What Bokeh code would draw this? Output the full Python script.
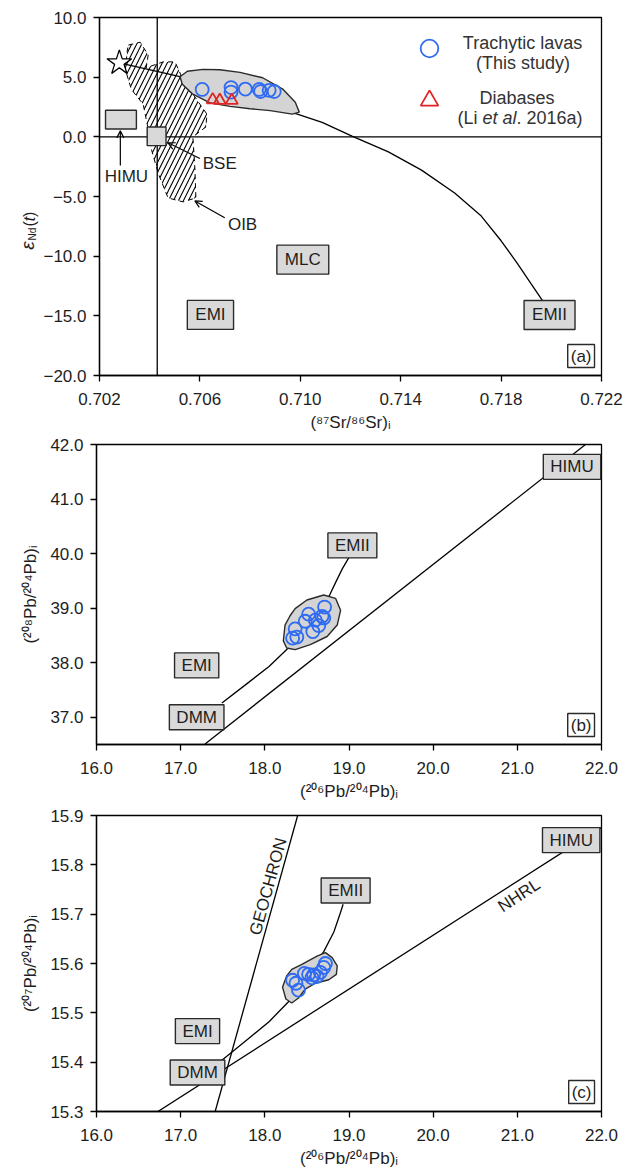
import math
from bokeh.plotting import figure
from bokeh.models import (Range1d, FixedTicker, CustomJSTickFormatter, Span, Label,
                          Arrow, OpenHead, Legend, LegendItem)
from bokeh.layouts import column, row
from bokeh.embed import file_html
from bokeh.resources import INLINE
from bokeh.core.properties import value

FONT = "Liberation Sans"
INK = "#1e1e1e"
BLUE = "#2f6bf2"
RED = "#e02424"
FIELD = "#d4d4d4"
BOXFILL = "#d9d9d9"

# ---------------- (a) Sr-Nd data ----------------
a_xticks = [0.702, 0.706, 0.710, 0.714, 0.718, 0.722]
a_yticks = [-20, -15, -10, -5, 0, 5, 10]
a_bse_sr = 0.7043
a_chur_nd = 0.0

a_lava_sr = [0.70609, 0.70724, 0.70724, 0.70781, 0.70836, 0.70842, 0.70876, 0.70896]
a_lava_nd = [3.97, 4.13, 3.75, 4.00, 3.97, 3.80, 3.90, 3.80]
a_dia_sr = [0.70651, 0.70679, 0.70727]
a_dia_nd = [3.10, 3.05, 3.05]
a_dmm_sr = [0.70279]
a_dmm_nd = [6.2]
a_mix_sr = [0.70279, 0.70521, 0.7065, 0.7080, 0.70988, 0.71087, 0.71206, 0.71351,
            0.71483, 0.71615, 0.71721, 0.71800, 0.71866, 0.71919, 0.71965]
a_mix_nd = [6.2, 5.04, 4.0, 3.0, 1.9, 1.21, 0.06, -1.26, -2.79, -4.71, -6.64, -8.71,
            -10.64, -12.30, -13.72]
a_field_sr = [0.70521, 0.70550, 0.70612, 0.70680, 0.70760, 0.70850, 0.70930, 0.70980,
              0.70996, 0.70968, 0.70880, 0.70800, 0.70720, 0.70640, 0.70570, 0.70530]
a_field_nd = [5.04, 5.50, 5.65, 5.62, 5.40, 4.95, 4.00, 2.90, 2.07, 1.90, 2.20, 2.35,
              2.55, 2.85, 3.60, 4.40]
a_oib_sr = [0.70315, 0.70362, 0.70394, 0.70386, 0.70453, 0.70501, 0.70533, 0.70592,
            0.70628, 0.70624, 0.70572, 0.70580, 0.70584, 0.70533, 0.70473, 0.70434,
            0.70406, 0.70394, 0.70374, 0.70327, 0.70303, 0.70311]
a_oib_nd = [7.69, 7.93, 6.86, 5.79, 6.28, 6.28, 4.79, 2.98, 1.90, 0.83, 0.00, -2.64,
            -5.12, -5.45, -5.12, -3.06, -0.99, 0.66, 2.73, 3.97, 5.62, 7.27]
a_himu_box = dict(left=[0.70224], right=[0.70347], bottom=[0.66], top=[2.23])
a_bse_box = dict(left=[0.7039], right=[0.70465], bottom=[-0.74], top=[0.83])
a_endmembers = [("EMI", 0.70642, -14.92), ("MLC", 0.7101, -10.29), ("EMII", 0.71993, -14.93)]
a_pointers = [("HIMU", 0.70307, -3.31, 0.70283, -2.40, 0.70283, 0.50),
              ("BSE", 0.70679, -2.23, 0.70600, -1.82, 0.70473, -0.50),
              ("OIB", 0.70770, -7.36, 0.70699, -6.78, 0.70580, -5.37)]

# ---------------- (b) 206Pb-208Pb data ----------------
pb_xticks = [16, 17, 18, 19, 20, 21, 22]
b_yticks = [37, 38, 39, 40, 41, 42]
b_lava_206 = [18.33, 18.38, 18.36, 18.48, 18.52, 18.57, 18.60, 18.64, 18.68, 18.70, 18.71]
b_lava_208 = [38.45, 38.47, 38.62, 38.76, 38.89, 38.57, 38.78, 38.68, 38.85, 38.82, 39.02]
b_nhrl_206 = [17.29, 21.81]
b_nhrl_208 = [36.51, 42.0]
b_mix_206 = [17.49, 17.80, 18.05, 18.26, 18.50, 18.77, 18.85, 18.92, 19.00]
b_mix_208 = [37.26, 37.63, 37.93, 38.24, 38.70, 39.24, 39.50, 39.72, 39.93]
b_field_206 = [18.22, 18.24, 18.30, 18.36, 18.50, 18.70, 18.84, 18.90, 18.86, 18.74,
               18.54, 18.36, 18.26]
b_field_208 = [38.40, 38.69, 38.86, 38.99, 39.15, 39.24, 39.18, 38.96, 38.69, 38.48,
               38.33, 38.24, 38.27]
b_endmembers = [("HIMU", 21.65, 41.59), ("EMII", 19.04, 40.15), ("EMI", 17.19, 37.95),
                ("DMM", 17.19, 37.00)]

# ---------------- (c) 206Pb-207Pb data ----------------
c_yticks = [15.3, 15.4, 15.5, 15.6, 15.7, 15.8, 15.9]
c_lava_206 = [18.33, 18.37, 18.40, 18.47, 18.52, 18.56, 18.58, 18.62, 18.66, 18.70, 18.72]
c_lava_207 = [15.566, 15.560, 15.546, 15.580, 15.578, 15.571, 15.577, 15.574, 15.582,
              15.592, 15.600]
c_geochron_206 = [17.41, 18.39]
c_geochron_207 = [15.30, 15.90]
c_nhrl_206 = [16.73, 22.0]
c_nhrl_207 = [15.30, 15.876]
c_mix_206 = [17.49, 17.80, 18.05, 18.29, 18.50, 18.70, 18.82, 18.90, 18.93]
c_mix_207 = [15.404, 15.447, 15.482, 15.524, 15.575, 15.624, 15.664, 15.704, 15.720]
c_field_206 = [18.21, 18.26, 18.32, 18.44, 18.62, 18.72, 18.80, 18.86, 18.85, 18.76,
               18.60, 18.48, 18.40, 18.32, 18.25]
c_field_207 = [15.552, 15.575, 15.588, 15.598, 15.615, 15.622, 15.612, 15.595, 15.578,
               15.567, 15.560, 15.548, 15.530, 15.520, 15.528]
c_endmembers = [("HIMU", 21.64, 15.850), ("EMII", 18.96, 15.748), ("EMI", 17.20, 15.463),
                ("DMM", 17.20, 15.379)]
c_line_labels = [("GEOCHRON", 18.04, 15.756), ("NHRL", 21.02, 15.738)]

FRAME_W = 505
C_FRAME_H = 301


def make_fig(w, h, xr, yr, left, top, bottom):
    p = figure(width=w, height=h, x_range=Range1d(*xr), y_range=Range1d(*yr),
               output_backend="svg", toolbar_location=None,
               min_border_left=left, min_border_right=39,
               min_border_top=top, min_border_bottom=bottom)
    p.grid.visible = False
    p.outline_line_color = "black"
    p.outline_line_width = 1.3
    p.outline_line_alpha = 1.0
    p.background_fill_color = "white"
    p.border_fill_color = "white"
    return p


def style(p, xticks, yticks, xdig, ydig, xlabel, ylabel):
    p.xaxis.ticker = FixedTicker(ticks=xticks)
    p.yaxis.ticker = FixedTicker(ticks=yticks)
    p.xaxis.formatter = CustomJSTickFormatter(
        code="return tick.toFixed(%d).replace('-', '\\u2212')" % xdig)
    p.yaxis.formatter = CustomJSTickFormatter(
        code="return tick.toFixed(%d).replace('-', '\\u2212')" % ydig)
    for ax in p.axis:
        ax.major_label_text_font = FONT
        ax.major_label_text_font_size = "17px"
        ax.major_label_text_color = INK
        ax.major_tick_in = 0
        ax.major_tick_out = 6
        ax.minor_tick_line_color = None
        ax.axis_line_width = 1.3
        ax.major_tick_line_width = 1.3
        ax.axis_label_text_font = FONT
        ax.axis_label_text_font_size = "17px"
        ax.axis_label_text_font_style = "normal"
        ax.axis_label_text_color = INK
    p.xaxis.major_label_standoff = 11
    p.yaxis.major_label_standoff = 7
    p.xaxis.axis_label = xlabel
    p.xaxis.axis_label_standoff = 5
    if ylabel:
        p.yaxis.axis_label = ylabel
        p.yaxis.axis_label_standoff = 7


def box_label(p, text, x, y, pad):
    p.add_layout(Label(x=x, y=y, text=text, text_align="center", text_baseline="middle",
                       text_font=FONT, text_font_size="17px", text_color=INK,
                       background_fill_color=BOXFILL, border_line_color="#2a2a2a",
                       border_line_width=1.4, padding=pad))


def panel_tag(p, text, xr, yr):
    p.add_layout(Label(x=xr[1], y=yr[0], x_offset=-7, y_offset=8, text=text,
                       text_align="right", text_baseline="bottom",
                       text_font=FONT, text_font_size="17px", text_color=INK,
                       background_fill_color="white", border_line_color="#2a2a2a",
                       border_line_width=1.4, padding=(3, 2)))


def field_and_lavas(p, fx, fy, lx, ly):
    p.patch(fx, fy, fill_color=FIELD, line_color="#2a2a2a", line_width=1.4)
    return p.scatter(lx, ly, marker="circle", size=13, fill_color=None,
                     line_color=BLUE, line_width=1.8)


# ================= panel (a) =================
a_xr = (0.702, 0.722)
a_yr = (-20, 10)
pa = make_fig(600, 434, a_xr, a_yr, 56, 17, 54)
style(pa, a_xticks, a_yticks, 3, 1, "(\u2078\u2077Sr/\u2078\u2076Sr)\u1d62", None)

pa.add_layout(Span(location=a_bse_sr, dimension="height", line_color="black",
                   line_width=1.3, level="underlay"))
pa.add_layout(Span(location=a_chur_nd, dimension="width", line_color="black",
                   line_width=1.3, level="underlay"))

pa.patch(a_oib_sr, a_oib_nd, fill_color=None, line_color="black", line_width=1,
         line_dash="5 4", hatch_pattern="/", hatch_color="black", hatch_weight=1.1,
         hatch_scale=10)
pa.quad(**a_himu_box, fill_color=BOXFILL, line_color="#2a2a2a", line_width=1.4)
pa.quad(**a_bse_box, fill_color=BOXFILL, line_color="#2a2a2a", line_width=1.4)

pa.line(a_mix_sr, a_mix_nd, line_color="black", line_width=1.3)
r_lava = field_and_lavas(pa, a_field_sr, a_field_nd, a_lava_sr, a_lava_nd)
r_dia = pa.scatter(a_dia_sr, a_dia_nd, marker="triangle", size=12, fill_color=None,
                   line_color=RED, line_width=1.8)
pa.scatter(a_dmm_sr, a_dmm_nd, marker="star", size=26, fill_color="white",
           line_color="black", line_width=1.3)

for name, tx, ty, x0, y0, x1, y1 in a_pointers:
    pa.add_layout(Arrow(end=OpenHead(size=7, line_width=1.2, line_color="black"),
                        x_start=x0, y_start=y0, x_end=x1, y_end=y1,
                        line_width=1.2, line_color="black"))
    pa.add_layout(Label(x=tx, y=ty, text=name, text_align="center",
                        text_baseline="middle", text_font=FONT,
                        text_font_size="17px", text_color=INK))

for name, x, y in a_endmembers:
    box_label(pa, name, x, y, (8, 5))
panel_tag(pa, "(a)", a_xr, a_yr)

legend = Legend(items=[LegendItem(label=value(" "), renderers=[r_lava]),
                       LegendItem(label=value(" "), renderers=[r_dia])],
                location=(308, 253), orientation="vertical", glyph_width=44,
                glyph_height=44, spacing=8, padding=0, margin=0,
                border_line_color=None, background_fill_alpha=0,
                label_width=0, label_standoff=0)
pa.add_layout(legend)


def scr_label(p, text, x, y, style_="normal", align="center"):
    p.add_layout(Label(x=x, y=y, x_units="screen", y_units="screen", text=text,
                       text_align=align, text_baseline="alphabetic",
                       text_font=FONT, text_font_size="18px", text_font_style=style_,
                       text_color="#333333"))


scr_label(pa, "Trachytic lavas", 423, 333)
scr_label(pa, "(This study)", 423.5, 313)
scr_label(pa, "Diabases", 417.5, 278)
scr_label(pa, "(Li ", 358, 258, align="left")
scr_label(pa, "et al", 383, 258, style_="italic", align="left")
scr_label(pa, ". 2016a)", 417, 258, align="left")

# y-axis title of (a): epsilon_Nd(t), composed in a narrow strip left of the panel
STRIP_W, STRIP_H = 40, 434
ylab = figure(frame_width=STRIP_W, frame_height=STRIP_H,
              x_range=Range1d(0, STRIP_W), y_range=Range1d(0, STRIP_H),
              output_backend="svg", toolbar_location=None, x_axis_type=None,
              y_axis_type=None, min_border_left=0, min_border_right=0,
              min_border_top=0, min_border_bottom=0, outline_line_color=None)
ylab.grid.visible = False
up = math.pi / 2
title_pieces = [("\u03b5", 27.0, 206.0, "19px", "italic"),
                ("Nd", 31.5, 217.5, "10px", "normal"),
                ("(", 28.5, 227.6, "16px", "normal"),
                ("t", 28.5, 232.4, "16px", "italic"),
                (")", 28.5, 237.2, "16px", "normal")]
for txt, tx, ty, fs, st in title_pieces:
    ylab.text(x=[tx], y=[ty], text=[txt], angle=up, text_align="center",
              text_baseline="middle", text_font=value(FONT), text_font_size=fs,
              text_font_style=st, text_color=INK)

# ================= panel (b) =================
b_xr = (16, 22)
b_yr = (36.5, 42)
pb = make_fig(640, 371, b_xr, b_yr, 96, 10, 61)
style(pb, pb_xticks, b_yticks, 1, 1, "(\u00b2\u2070\u2076Pb/\u00b2\u2070\u2074Pb)\u1d62",
      "(\u00b2\u2070\u2078Pb/\u00b2\u2070\u2074Pb)\u1d62")
pb.line(b_nhrl_206, b_nhrl_208, line_color="black", line_width=1.3)
pb.line(b_mix_206, b_mix_208, line_color="black", line_width=1.3)
field_and_lavas(pb, b_field_206, b_field_208, b_lava_206, b_lava_208)
for name, x, y in b_endmembers:
    box_label(pb, name, x, y, (7, 3))
panel_tag(pb, "(b)", b_xr, b_yr)

# ================= panel (c) =================
c_xr = (16, 22)
c_yr = (15.3, 15.9)
pc = make_fig(640, 365, c_xr, c_yr, 96, 10, 54)
style(pc, pb_xticks, c_yticks, 1, 1, "(\u00b2\u2070\u2076Pb/\u00b2\u2070\u2074Pb)\u1d62",
      "(\u00b2\u2070\u2077Pb/\u00b2\u2070\u2074Pb)\u1d62")
pc.line(c_geochron_206, c_geochron_207, line_color="black", line_width=1.3)
pc.line(c_nhrl_206, c_nhrl_207, line_color="black", line_width=1.3)
pc.line(c_mix_206, c_mix_207, line_color="black", line_width=1.3)
field_and_lavas(pc, c_field_206, c_field_207, c_lava_206, c_lava_207)
for name, x, y in c_endmembers:
    box_label(pc, name, x, y, (7, 3))
panel_tag(pc, "(c)", c_xr, c_yr)

c_fw = FRAME_W / (c_xr[1] - c_xr[0])
c_fh = C_FRAME_H / (c_yr[1] - c_yr[0])


def line_angle(xs, ys):
    return math.atan2((ys[1] - ys[0]) * c_fh, (xs[1] - xs[0]) * c_fw)


c_angles = [line_angle(c_geochron_206, c_geochron_207), line_angle(c_nhrl_206, c_nhrl_207)]
for (name, x, y), ang in zip(c_line_labels, c_angles):
    pc.add_layout(Label(x=x, y=y, text=name, angle=ang, text_align="center",
                        text_baseline="middle", text_font=FONT, text_font_size="17px",
                        text_color=INK))

layout = column(row(ylab, pa, spacing=0), pb, pc, spacing=0)
open("out.html", "w").write(file_html(layout, INLINE))
